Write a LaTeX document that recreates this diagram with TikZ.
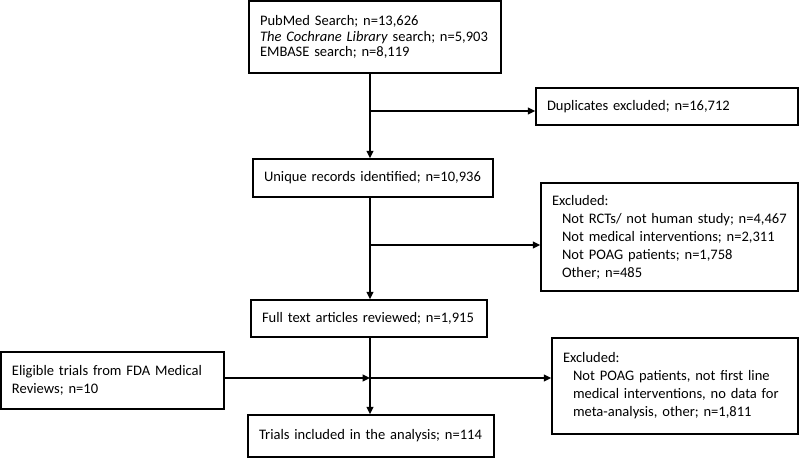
\documentclass[tikz,border=0pt]{standalone}
\usepackage{fontspec}
\setmainfont{Carlito}
\usetikzlibrary{arrows.meta}

\begin{document}
\begin{tikzpicture}
    [ x=0.75pt, y=-0.75pt
    , box/.style={draw, line width=1.1pt, align=left, inner xsep=8.25pt, inner ysep=0pt,
                  font=\fontsize{10.9}{13.5}\selectfont}
    , flow/.style={line width=1.1pt, -{Triangle[length=5.5pt,width=5pt]}}
    ]
\useasboundingbox (0,0) rectangle (800,459);

\node[box, text width=172.5pt, minimum height=54pt, font=\fontsize{10.9}{11.7}\selectfont]
    (search) at (375,37)
    {PubMed Search; n=13,626\\
     \textit{The Cochrane Library} search; n=5,903\\
     EMBASE search; n=8,119};
\node[box, text width=180pt, minimum height=27.75pt] (dupl) at (667,106.5)
    {Duplicates excluded; n=16,712};
\node[box, text width=163.5pt, minimum height=28.5pt] (unique) at (373,178)
    {Unique records identified; n=10,936};
\node[box, text width=176.25pt, minimum height=81pt] (exclA) at (669.5,237)
    {Excluded:\\
     \hspace*{7.5pt}Not RCTs/ not human study; n=4,467\\
     \hspace*{7.5pt}Not medical interventions; n=2,311\\
     \hspace*{7.5pt}Not POAG patients; n=1,758\\
     \hspace*{7.5pt}Other; n=485};
\node[box, text width=160.5pt, minimum height=27.75pt] (fulltext) at (369,318.5)
    {Full text articles reviewed; n=1,915};
\node[box, text width=150.75pt, minimum height=42.75pt] (fda) at (112.5,380.5)
    {Eligible trials from FDA Medical\\Reviews; n=10};
\node[box, text width=168pt, minimum height=72pt] (exclB) at (675,386)
    {Excluded:\\
     \hspace*{7.5pt}Not POAG patients, not first line\\
     \hspace*{7.5pt}medical interventions, no data for\\
     \hspace*{7.5pt}meta-analysis, other; n=1,811};
\node[box, text width=168pt, minimum height=31.5pt] (trials) at (371,436)
    {Trials included in the analysis; n=114};

% junctions on the main line
\coordinate (jdupl) at (370,111);
\coordinate (jexcl) at (370,245);
\coordinate (jfda) at (370,378);

\draw[flow] (search.south -| jdupl) -- (unique.north -| jdupl);
\draw[flow] (jdupl) -- (dupl.west |- jdupl);
\draw[flow] (unique.south -| jexcl) -- (fulltext.north -| jexcl);
\draw[flow] (jexcl) -- (exclA.west |- jexcl);
\draw[flow] (fulltext.south -| jfda) -- (trials.north -| jfda);
\draw[flow] (fda.east |- jfda) -- (jfda);
\draw[flow] (jfda) -- (exclB.west |- jfda);

\end{tikzpicture}
\end{document}
